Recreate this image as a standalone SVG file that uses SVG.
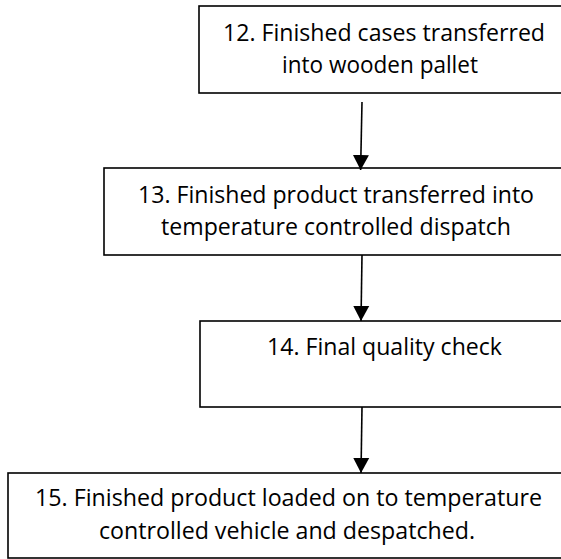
<svg xmlns="http://www.w3.org/2000/svg" width="561" height="559" viewBox="0 0 561 559">
<style>
.box{fill:#fff;stroke:#000;stroke-width:1.6}
.lbl{font-family:"Open Sans","DejaVu Sans",sans-serif;font-size:24px;fill:#000}
.conn{stroke:#000;stroke-width:1.6;fill:none}
</style>
<defs>
<marker id="ah" markerUnits="userSpaceOnUse" markerWidth="18" markerHeight="18" viewBox="0 0 18 18" refX="15" refY="9" orient="auto">
<path d="M0,1 L15,9 L0,17 Z" fill="#000"/>
</marker>
</defs>
<rect width="561" height="559" fill="#fff"/>
<g id="n12">
<rect class="box" x="199" y="6" width="380" height="87"/>
<text class="lbl" x="223" y="41" textLength="322" lengthAdjust="spacingAndGlyphs">12. Finished cases transferred</text>
<text class="lbl" x="282" y="73" textLength="196" lengthAdjust="spacingAndGlyphs">into wooden pallet</text>
</g>
<g id="n13">
<rect class="box" x="104" y="168" width="475" height="87"/>
<text class="lbl" x="138" y="203" textLength="396" lengthAdjust="spacingAndGlyphs">13. Finished product transferred into</text>
<text class="lbl" x="161" y="235" textLength="350" lengthAdjust="spacingAndGlyphs">temperature controlled dispatch</text>
</g>
<g id="n14">
<rect class="box" x="200" y="321" width="379" height="86"/>
<text class="lbl" x="267" y="355" textLength="235" lengthAdjust="spacingAndGlyphs">14. Final quality check</text>
</g>
<g id="n15">
<rect class="box" x="8" y="473" width="571" height="85"/>
<text class="lbl" x="35" y="506" textLength="507" lengthAdjust="spacingAndGlyphs">15. Finished product loaded on to temperature</text>
<text class="lbl" x="99" y="539" textLength="376" lengthAdjust="spacingAndGlyphs">controlled vehicle and despatched.</text>
</g>
<g id="connectors">
<line class="conn" x1="362" y1="102" x2="360.6" y2="170" marker-end="url(#ah)"/>
<line class="conn" x1="362" y1="255" x2="361" y2="321" marker-end="url(#ah)"/>
<line class="conn" x1="362" y1="407" x2="361" y2="473" marker-end="url(#ah)"/>
</g>
</svg>
